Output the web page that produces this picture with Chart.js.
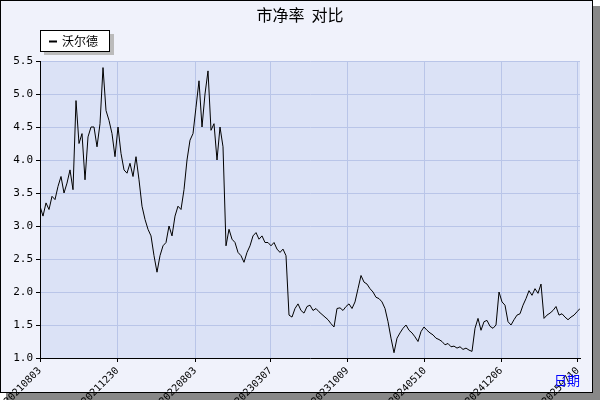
<!DOCTYPE html>
<html>
<head>
<meta charset="utf-8">
<script src="https://cdn.jsdelivr.net/npm/chart.js@4"></script>
<style>
  html, body { margin: 0; padding: 0; background: #ffffff; }
  #wrap { width: 600px; height: 400px; }
</style>
</head>
<body>
<div id="wrap"><canvas id="pbChart" width="600" height="400"></canvas></div>
<script>
// Chart data
const seriesName = "沃尔德";
const titleText = "市净率  对比";
const axisName = "日期";

const dateLabels = ["20210803", "20211230", "20220803", "20230307", "20231009", "20240510", "20241206", "20250710"];
const dateTickPos = [0, 25.8, 51.7, 76.9, 102.5, 128.3, 153.7, 179.3];

const pbValues = [
  3.30, 3.15, 3.35, 3.25, 3.45, 3.40, 3.60, 3.75, 3.50, 3.65,
  3.85, 3.55, 4.90, 4.25, 4.40, 3.70, 4.35, 4.50, 4.50, 4.20,
  4.55, 5.40, 4.75, 4.60, 4.40, 4.05, 4.50, 4.10, 3.85, 3.80,
  3.95, 3.75, 4.05, 3.70, 3.30, 3.10, 2.95, 2.85, 2.55, 2.30,
  2.55, 2.70, 2.75, 3.00, 2.85, 3.15, 3.30, 3.25, 3.55, 4.00,
  4.30, 4.40, 4.80, 5.20, 4.50, 5.00, 5.35, 4.45, 4.55, 4.00,
  4.50, 4.20, 2.70, 2.95, 2.80, 2.75, 2.60, 2.55, 2.45, 2.60,
  2.70, 2.85, 2.90, 2.80, 2.85, 2.75, 2.75, 2.70, 2.75, 2.65,
  2.60, 2.65, 2.55, 1.65, 1.62, 1.75, 1.82, 1.72, 1.68, 1.78,
  1.80, 1.72, 1.75, 1.70, 1.66, 1.62, 1.58, 1.52, 1.47, 1.75,
  1.76, 1.72, 1.78, 1.82, 1.75, 1.85, 2.05, 2.25, 2.15, 2.12,
  2.05, 2.00, 1.92, 1.90, 1.85, 1.75, 1.55, 1.30, 1.08, 1.30,
  1.38, 1.45, 1.50, 1.42, 1.38, 1.32, 1.25, 1.40, 1.47, 1.42,
  1.38, 1.35, 1.30, 1.28, 1.25, 1.20, 1.22, 1.17, 1.18, 1.15,
  1.17, 1.13, 1.15, 1.12, 1.10, 1.45, 1.60, 1.42, 1.55, 1.57,
  1.48, 1.45, 1.50, 2.00, 1.85, 1.80, 1.55, 1.50, 1.58, 1.65,
  1.67, 1.80, 1.90, 2.02, 1.95, 2.05, 1.98, 2.12, 1.60, 1.65,
  1.68, 1.72, 1.78, 1.65, 1.67, 1.62, 1.58, 1.62, 1.65, 1.70,
  1.75
];

const yTicks = [1.0, 1.5, 2.0, 2.5, 3.0, 3.5, 4.0, 4.5, 5.0, 5.5];

const points = pbValues.map((v, i) => ({ x: i, y: v }));

// Frame, background, title, legend box and axis name
const framePlugin = {
  id: "frame",
  beforeDraw(chart) {
    const ctx = chart.ctx;
    const a = chart.chartArea;
    ctx.save();
    ctx.fillStyle = "#ffffff";
    ctx.fillRect(0, 0, 600, 400);
    ctx.fillStyle = "#888888";
    ctx.fillRect(6, 6, 594, 394);
    ctx.fillStyle = "#f0f2fb";
    ctx.fillRect(0, 0, 593, 393);
    ctx.strokeStyle = "#000000";
    ctx.lineWidth = 1;
    ctx.strokeRect(0.5, 0.5, 592, 392);
    ctx.fillStyle = "#dbe2f6";
    ctx.fillRect(a.left, a.top, a.right - a.left, a.bottom - a.top);
    ctx.restore();
  },
  afterDraw(chart) {
    const ctx = chart.ctx;
    ctx.save();
    ctx.fillStyle = "#000000";
    ctx.font = "16px 'Noto Sans CJK SC'";
    ctx.textAlign = "center";
    ctx.textBaseline = "middle";
    ctx.fillText(titleText, 300, 15);
    // legend box
    ctx.fillStyle = "#bbbbbb";
    ctx.fillRect(44, 34, 70, 21);
    ctx.fillStyle = "#ffffff";
    ctx.fillRect(40, 30, 70, 21);
    ctx.strokeStyle = "#000000";
    ctx.strokeRect(40.5, 30.5, 69, 21);
    ctx.lineWidth = 2;
    ctx.beginPath();
    ctx.moveTo(49, 41.5);
    ctx.lineTo(57, 41.5);
    ctx.stroke();
    ctx.fillStyle = "#000000";
    ctx.font = "12px 'Noto Sans CJK SC'";
    ctx.textAlign = "left";
    ctx.fillText(seriesName, 62, 41);
    // axis name
    ctx.fillStyle = "#0000ff";
    ctx.font = "13px 'Noto Sans CJK SC'";
    ctx.textAlign = "right";
    ctx.fillText(axisName, 580, 380);
    ctx.restore();
  }
};

const ctx = document.getElementById("pbChart").getContext("2d");
const pbChart = new Chart(ctx, {
  type: "line",
  data: {
    datasets: [{
      label: seriesName,
      data: points,
      borderColor: "#000000",
      borderWidth: 1,
      pointRadius: 0,
      tension: 0,
      fill: false
    }]
  },
  options: {
    responsive: false,
    animation: false,
    layout: { padding: { top: 61, left: 0, right: 20, bottom: 0 } },
    plugins: {
      legend: { display: false },
      title: { display: false },
      tooltip: { enabled: false }
    },
    scales: {
      x: {
        type: "linear",
        min: 0,
        max: 180,
        afterFit: (scale) => { scale.height = 42; },
        afterBuildTicks: (scale) => {
          scale.ticks = dateTickPos.map(v => ({ value: v }));
        },
        ticks: {
          autoSkip: false,
          minRotation: 45,
          maxRotation: 45,
          color: "#000000",
          font: { family: "DejaVu Sans Mono", size: 10 },
          callback: (value) => {
            const idx = dateTickPos.indexOf(value);
            return idx >= 0 ? dateLabels[idx] : "";
          }
        },
        grid: { color: "#b9c5e8", tickLength: 4, tickColor: "#000000" },
        border: { color: "#000000", width: 1 }
      },
      y: {
        min: 1.0,
        max: 5.5,
        afterFit: (scale) => { scale.width = 40; },
        afterBuildTicks: (scale) => {
          scale.ticks = yTicks.map(v => ({ value: v }));
        },
        ticks: {
          color: "#000000",
          font: { family: "DejaVu Sans Mono", size: 11 },
          callback: (value) => value.toFixed(1)
        },
        grid: { color: "#b9c5e8", tickLength: 4, tickColor: "#000000" },
        border: { color: "#000000", width: 1 }
      }
    }
  },
  plugins: [framePlugin]
});
</script>
</body>
</html>
